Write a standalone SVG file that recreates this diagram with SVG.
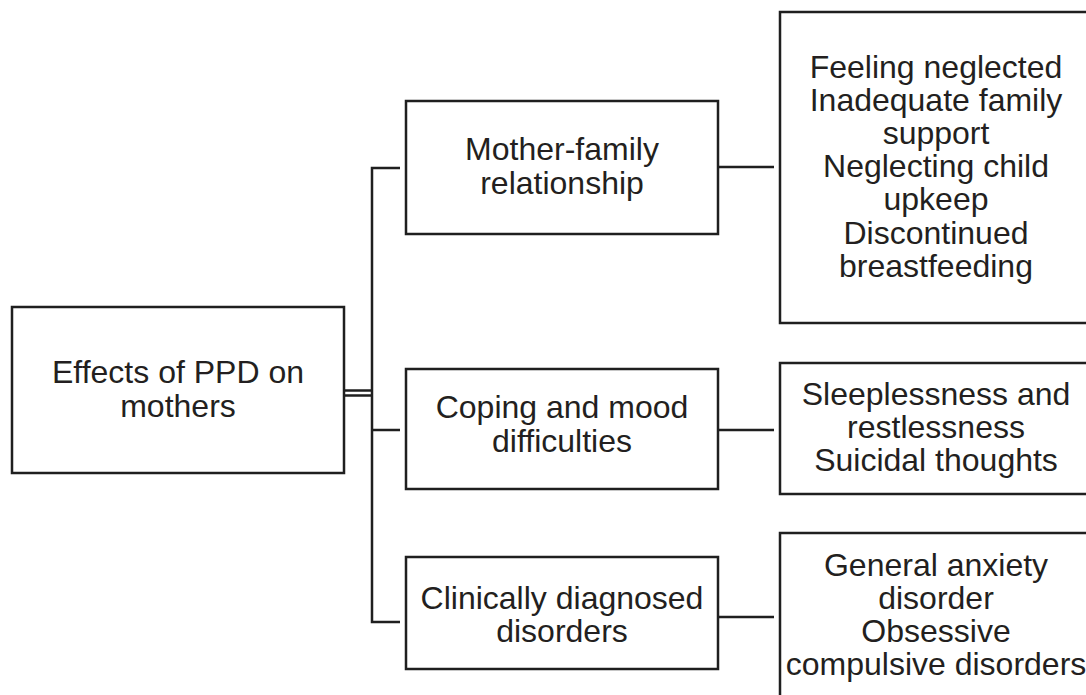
<svg xmlns="http://www.w3.org/2000/svg" width="1086" height="695" viewBox="0 0 1086 695">
  <style>
    .box { fill: #ffffff; stroke: #1f1f1f; stroke-width: 2.5; }
    .link { fill: none; stroke: #1f1f1f; stroke-width: 2.5; }
    .label { font-family: "Liberation Sans", Arial, sans-serif; font-size: 32px; fill: #231f20; text-anchor: middle; }
  </style>
  <rect width="1086" height="695" fill="#ffffff"/>

  <g id="connectors">
    <!-- double line from the root box to the trunk -->
    <line class="link" x1="344" y1="390.5" x2="372" y2="390.5" stroke-width="2"/>
    <line class="link" x1="344" y1="395.5" x2="372" y2="395.5" stroke-width="2"/>
    <!-- trunk with three branches -->
    <path class="link" d="M400 168 H372 V622 H400"/>
    <line class="link" x1="372" y1="430" x2="400" y2="430"/>
    <!-- middle boxes to detail boxes -->
    <line class="link" x1="718" y1="167" x2="774" y2="167"/>
    <line class="link" x1="718" y1="430" x2="774" y2="430"/>
    <line class="link" x1="718" y1="617" x2="774" y2="617"/>
  </g>

  <g id="root">
    <rect class="box" x="12" y="307" width="332" height="166"/>
    <text class="label" x="178" y="383">Effects of PPD on</text>
    <text class="label" x="178" y="417">mothers</text>
  </g>

  <g id="mother-family">
    <rect class="box" x="406" y="101" width="312" height="133"/>
    <text class="label" x="562" y="160">Mother-family</text>
    <text class="label" x="562" y="194">relationship</text>
  </g>

  <g id="coping">
    <rect class="box" x="406" y="369" width="312" height="120"/>
    <text class="label" x="562" y="418">Coping and mood</text>
    <text class="label" x="562" y="452">difficulties</text>
  </g>

  <g id="clinical">
    <rect class="box" x="406" y="557" width="312" height="112"/>
    <text class="label" x="562" y="609">Clinically diagnosed</text>
    <text class="label" x="562" y="642">disorders</text>
  </g>

  <g id="family-effects">
    <rect class="box" x="780" y="12" width="312" height="311"/>
    <text class="label" x="936" y="78">Feeling neglected</text>
    <text class="label" x="936" y="111">Inadequate family</text>
    <text class="label" x="936" y="144">support</text>
    <text class="label" x="936" y="177">Neglecting child</text>
    <text class="label" x="936" y="210">upkeep</text>
    <text class="label" x="936" y="244">Discontinued</text>
    <text class="label" x="936" y="277">breastfeeding</text>
  </g>

  <g id="mood-effects">
    <rect class="box" x="780" y="363" width="312" height="131"/>
    <text class="label" x="936" y="405">Sleeplessness and</text>
    <text class="label" x="936" y="438">restlessness</text>
    <text class="label" x="936" y="471">Suicidal thoughts</text>
  </g>

  <g id="disorder-effects">
    <rect class="box" x="780" y="533" width="312" height="180"/>
    <text class="label" x="936" y="576">General anxiety</text>
    <text class="label" x="936" y="609">disorder</text>
    <text class="label" x="936" y="642">Obsessive</text>
    <text class="label" x="936" y="675">compulsive disorders</text>
  </g>
</svg>
